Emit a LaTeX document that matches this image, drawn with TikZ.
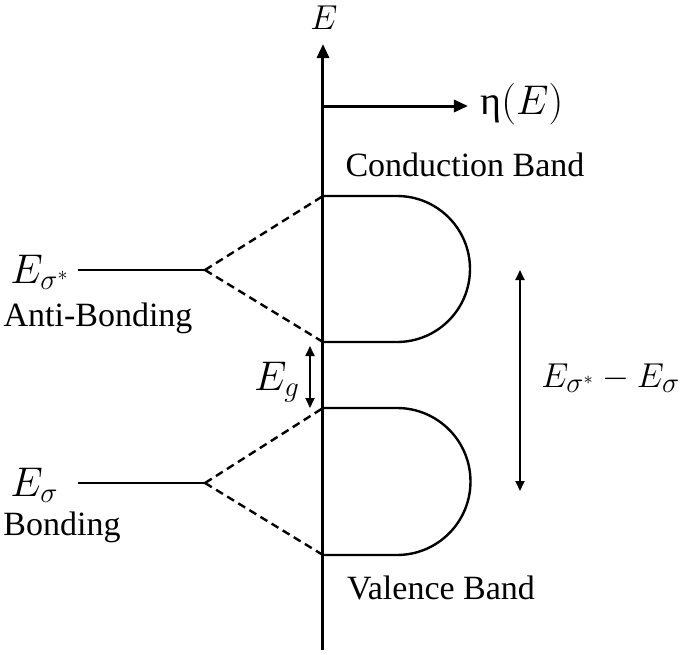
\documentclass[tikz,border=0pt]{standalone}
\usepackage{fontspec}
\setmainfont{Liberation Serif}
\usetikzlibrary{arrows.meta}
\begin{document}
\begin{tikzpicture}[x=0.5pt,y=-0.5pt]
\tikzset{every node/.style={font=\fontsize{17}{20}\selectfont,inner sep=0pt}}
\tikzset{mathlbl/.style={font=\fontsize{20}{24}\selectfont},
         band/.style={line width=1.2pt},
         split/.style={line width=1.2pt,dash pattern=on 4pt off 2.5pt},
         axis/.style={line width=1.5pt,-{Triangle[length=7pt,width=6pt]}},
         gap/.style={line width=0.9pt,{Triangle[length=5pt,width=4.5pt]}-{Triangle[length=5pt,width=4.5pt]}}}
%\tikzset{every node/.style={draw}}
\useasboundingbox (0,0) rectangle (693,654);
% axes
\coordinate (origin) at (323,650);
\coordinate (etop) at (323,44);
\coordinate (dosl) at (323,106);
\coordinate (dosr) at (468,106);
\draw[axis] (origin) -- (etop);
\draw[axis] (dosl) -- (dosr);
\node[font=\fontsize{16}{19}\selectfont] (elabel) at (324,18) {$E$};
\node[mathlbl,anchor=west] (doslabel) at (480,104) {η$(E)$};
% bands
\coordinate (cbtop) at (323,196);
\coordinate (cbbot) at (323,342);
\coordinate (vbtop) at (323,408);
\coordinate (vbbot) at (323,555);
\draw[band] (cbtop) -- (397,196) arc (-90:90:73) -- (cbbot);
\draw[band] (vbtop) -- (397,408) arc (-90:90:73.5) -- (vbbot);
\node (cblabel) at (465,165) {Conduction Band};
\node (vblabel) at (441,588) {Valence Band};
% molecular levels
\coordinate (asl) at (78,270);
\coordinate (asr) at (205,270);
\coordinate (bl) at (78,483);
\coordinate (br) at (205,483);
\draw[band] (asl) -- (asr);
\draw[band] (bl) -- (br);
\draw[split] (asr) -- (cbtop);
\draw[split] (asr) -- (cbbot);
\draw[split] (br) -- (vbtop);
\draw[split] (br) -- (vbbot);
\node[mathlbl,anchor=west] (aslabel) at (10,272) {$E_{\sigma^*}$};
\node (astext) at (98,318) {Anti-Bonding};
\node[mathlbl,anchor=west] (blabel) at (10,485) {$E_{\sigma}$};
\node (btext) at (62,527) {Bonding};
% gaps
\coordinate (egtop) at (310,346);
\coordinate (egbot) at (310,408);
\draw[gap] (egtop) -- (egbot);
\node[mathlbl] (eglabel) at (277,382) {$E_g$};
\coordinate (sptop) at (520,270);
\coordinate (spbot) at (520,491);
\draw[gap] (sptop) -- (spbot);
\node[font=\fontsize{19}{23}\selectfont,anchor=west] (splabel) at (541,378) {$E_{\sigma^*}-E_{\sigma}$};
\end{tikzpicture}
\end{document}
